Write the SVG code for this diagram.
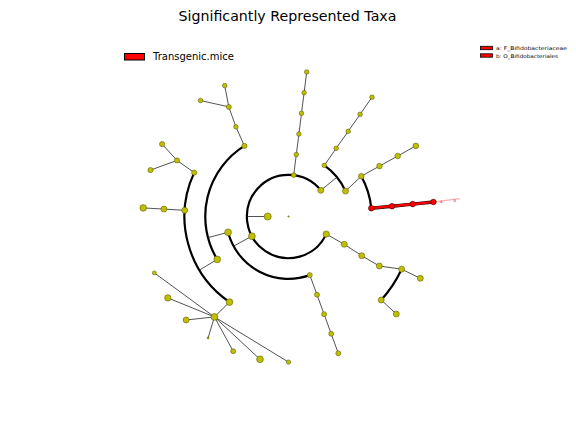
<svg xmlns="http://www.w3.org/2000/svg" width="576" height="432" viewBox="0 0 576 432">
<style>
.n{fill:#bfbf00;stroke:#4d4d00;stroke-width:0.5}
.r{fill:#ff0000;stroke:#330000;stroke-width:0.6}
.ln{stroke:#1a1a1a;stroke-width:0.75;fill:none}
.arc{stroke:#000;stroke-width:2.2;fill:none}
.t{font-family:"DejaVu Sans",sans-serif;fill:#000}
</style>
<rect width="576" height="432" fill="#fff"/>
<text class="t" x="287.5" y="21" font-size="14.2" text-anchor="middle">Significantly Represented Taxa</text>
<g id="legend-main">
<rect x="124.5" y="53.5" width="20" height="6.5" fill="#ff0000" stroke="#000" stroke-width="1"/>
<text class="t" x="153" y="60" font-size="10">Transgenic.mice</text>
</g>
<g id="legend-clades">
<rect x="480.5" y="46.3" width="12" height="3.4" fill="#ff0000" stroke="#000" stroke-width="0.8"/>
<text class="t" x="496" y="50" font-size="5" fill="#222" textLength="71" lengthAdjust="spacingAndGlyphs">a: F_Bifidobacteriaceae</text>
<rect x="480.5" y="53.8" width="12" height="3.4" fill="#ff0000" stroke="#000" stroke-width="0.8"/>
<text class="t" x="496" y="57.5" font-size="5" fill="#222" textLength="62" lengthAdjust="spacingAndGlyphs">b: O_Bifidobacteriales</text>
</g>
<g id="connectors">
<line x1="433.4" y1="202" x2="460" y2="198.6" stroke="#ff9090" stroke-width="1.4" stroke-opacity="0.7"/>
<path class="arc" d="M320.8,190.3 A41.6,41.6 0 1 0 326.2,234.1"/>
<path class="arc" d="M228.1,232.3 A62.4,62.4 0 0 0 309.8,275.1"/>
<path class="arc" d="M324.3,165.4 A62.4,62.4 0 0 1 345.5,191.1"/>
<path class="arc" d="M361.3,176.2 A83.2,83.2 0 0 1 371.3,208.2"/>
<path class="arc" d="M244.4,145.9 A83.2,83.2 0 0 0 217.2,259.4"/>
<path class="arc" d="M194.2,172.6 A104,104 0 0 0 229.5,302.1"/>
<path class="arc" d="M401.6,269.2 A124.8,124.8 0 0 1 381.2,300"/>
<path class="ln" d="M267.7,216.5 L246.9,216.5"/>
<path class="ln" d="M293.7,175.2 L296.3,154.6 L298.9,134 L301.5,113.3 L304.1,92.7 L306.7,72"/>
<path class="ln" d="M320.8,190.3 L337,177.2"/>
<path class="ln" d="M324.3,165.4 L336.2,148.3 L348.2,131.3 L360.1,114.3 L372,97.2"/>
<path class="ln" d="M345.5,191.1 L361.3,176.2 L379.5,166.1 L397.7,156 L415.8,145.9"/>
<path d="M371.3,208.2 L392,206.2 L412.7,204.1 L433.4,202" stroke="#300" stroke-width="3.4" fill="none"/>
<path d="M371.3,208.2 L392,206.2 L412.7,204.1 L433.4,202" stroke="#ff0000" stroke-width="2.2" fill="none"/>
<path class="ln" d="M326.2,234.1 L344.3,244.3 L361.7,255.7 L379.3,266 L401.6,269.2 L420.3,278.3"/>
<path class="ln" d="M381.2,300 L396.3,314"/>
<path class="ln" d="M309.8,275.1 L317,294.7 L324.1,314.2 L331.2,333.8 L338.3,353.3"/>
<path class="ln" d="M251.9,236.2 L233.6,246.1"/>
<path class="ln" d="M228.1,232.3 L208,237.6"/>
<path class="ln" d="M244.4,145.9 L235.9,126.8 L228.8,106.9 L224.7,85.6 M228.8,106.9 L200.5,100.5"/>
<path class="ln" d="M217.2,259.4 L199.4,270.1"/>
<path class="ln" d="M194.2,172.6 L177,160.4 L162.1,144.1 M177,160.4 L150.5,170.1"/>
<path class="ln" d="M184.7,210.3 L163.9,209.1 L143.2,207.9"/>
<path class="ln" d="M229.5,302.1 L214.4,316.9 L154.3,272.9 M214.4,316.9 L167.8,297.9 M214.4,316.9 L186.1,320 M214.4,316.9 L208.1,337.9 M214.4,316.9 L233.2,351.2 M214.4,316.9 L260,359.3 M214.4,316.9 L288.5,362.1"/>
</g>
<g id="root"><circle class="n" cx="288.5" cy="216.5" r="0.7" stroke="none"/></g>
<g id="p1"><circle class="n" cx="267.7" cy="216.5" r="3.6"/></g>
<g id="a2"><circle class="n" cx="293.7" cy="175.2" r="2.4"/></g>
<g id="a3"><circle class="n" cx="296.3" cy="154.6" r="2.3"/></g>
<g id="a4"><circle class="n" cx="298.9" cy="134" r="2.3"/></g>
<g id="a5"><circle class="n" cx="301.5" cy="113.3" r="2.3"/></g>
<g id="a6"><circle class="n" cx="304.1" cy="92.7" r="2.3"/></g>
<g id="a7"><circle class="n" cx="306.7" cy="72" r="2.3"/></g>
<g id="b2"><circle class="n" cx="320.8" cy="190.3" r="3"/></g>
<g id="b3a"><circle class="n" cx="324.3" cy="165.4" r="2.3"/></g>
<g id="b4a"><circle class="n" cx="336.2" cy="148.3" r="2.3"/></g>
<g id="b5a"><circle class="n" cx="348.2" cy="131.3" r="2.3"/></g>
<g id="b6a"><circle class="n" cx="360.1" cy="114.3" r="2.3"/></g>
<g id="b7a"><circle class="n" cx="372" cy="97.2" r="2.3"/></g>
<g id="b3b"><circle class="n" cx="345.5" cy="191.1" r="3"/></g>
<g id="b4b"><circle class="n" cx="361.3" cy="176.2" r="2.8"/></g>
<g id="b5b"><circle class="n" cx="379.5" cy="166.1" r="2.8"/></g>
<g id="b6b"><circle class="n" cx="397.7" cy="156" r="2.8"/></g>
<g id="b7b"><circle class="n" cx="415.8" cy="145.9" r="2.8"/></g>
<g id="bif-family"><circle class="r" cx="371.3" cy="208.2" r="2.8"/></g>
<g id="bif-genus"><circle class="r" cx="392" cy="206.2" r="2.8"/></g>
<g id="bif-family-a"><circle class="r" cx="412.7" cy="204.1" r="2.8"/></g>
<g id="bif-order-b"><circle class="r" cx="433.4" cy="202" r="2.8"/></g>
<g id="label-a"><text x="440" y="203" font-family="DejaVu Sans, sans-serif" font-size="4" fill="#904040">a</text></g>
<g id="label-b"><text x="453.5" y="201.6" font-family="DejaVu Sans, sans-serif" font-size="4" fill="#904040">b</text></g>
<g id="c2"><circle class="n" cx="326.2" cy="234.1" r="3.2"/></g>
<g id="c3"><circle class="n" cx="344.3" cy="244.3" r="3"/></g>
<g id="c4"><circle class="n" cx="361.7" cy="255.7" r="3"/></g>
<g id="c5"><circle class="n" cx="379.3" cy="266" r="3"/></g>
<g id="c6a"><circle class="n" cx="401.6" cy="269.2" r="3"/></g>
<g id="c7a"><circle class="n" cx="420.3" cy="278.3" r="3"/></g>
<g id="c6b"><circle class="n" cx="381.2" cy="300" r="3"/></g>
<g id="c7b"><circle class="n" cx="396.3" cy="314" r="3"/></g>
<g id="d3"><circle class="n" cx="309.8" cy="275.1" r="2.5"/></g>
<g id="d4"><circle class="n" cx="317" cy="294.7" r="2.5"/></g>
<g id="d5"><circle class="n" cx="324.1" cy="314.2" r="2.5"/></g>
<g id="d6"><circle class="n" cx="331.2" cy="333.8" r="2.5"/></g>
<g id="d7"><circle class="n" cx="338.3" cy="353.3" r="2.5"/></g>
<g id="e2"><circle class="n" cx="251.9" cy="236.2" r="3.4"/></g>
<g id="e3"><circle class="n" cx="228.1" cy="232.3" r="3.4"/></g>
<g id="f4"><circle class="n" cx="244.4" cy="145.9" r="2.6"/></g>
<g id="f5"><circle class="n" cx="235.9" cy="126.8" r="2.3"/></g>
<g id="f6"><circle class="n" cx="228.8" cy="106.9" r="2.5"/></g>
<g id="f7a"><circle class="n" cx="224.7" cy="85.6" r="2.3"/></g>
<g id="f7b"><circle class="n" cx="200.5" cy="100.5" r="2.3"/></g>
<g id="g4"><circle class="n" cx="217.2" cy="259.4" r="3.4"/></g>
<g id="g5a"><circle class="n" cx="194.2" cy="172.6" r="2.6"/></g>
<g id="g6a"><circle class="n" cx="177" cy="160.4" r="2.6"/></g>
<g id="g7a"><circle class="n" cx="162.1" cy="144.1" r="2.6"/></g>
<g id="g7b"><circle class="n" cx="150.5" cy="170.1" r="2.6"/></g>
<g id="g5b"><circle class="n" cx="184.7" cy="210.3" r="3"/></g>
<g id="g6b"><circle class="n" cx="163.9" cy="209.1" r="3"/></g>
<g id="g7c"><circle class="n" cx="143.2" cy="207.9" r="3.3"/></g>
<g id="g5c"><circle class="n" cx="229.5" cy="302.1" r="3.4"/></g>
<g id="g6c"><circle class="n" cx="214.4" cy="316.9" r="3.4"/></g>
<g id="h1"><circle class="n" cx="154.3" cy="272.9" r="2"/></g>
<g id="h2"><circle class="n" cx="167.8" cy="297.9" r="3.2"/></g>
<g id="h3"><circle class="n" cx="186.1" cy="320" r="3"/></g>
<g id="h4"><circle class="n" cx="208.1" cy="337.9" r="1.1"/></g>
<g id="h5"><circle class="n" cx="233.2" cy="351.2" r="2.5"/></g>
<g id="h6"><circle class="n" cx="260" cy="359.3" r="3.4"/></g>
<g id="h7"><circle class="n" cx="288.5" cy="362.1" r="2.2"/></g>
</svg>
